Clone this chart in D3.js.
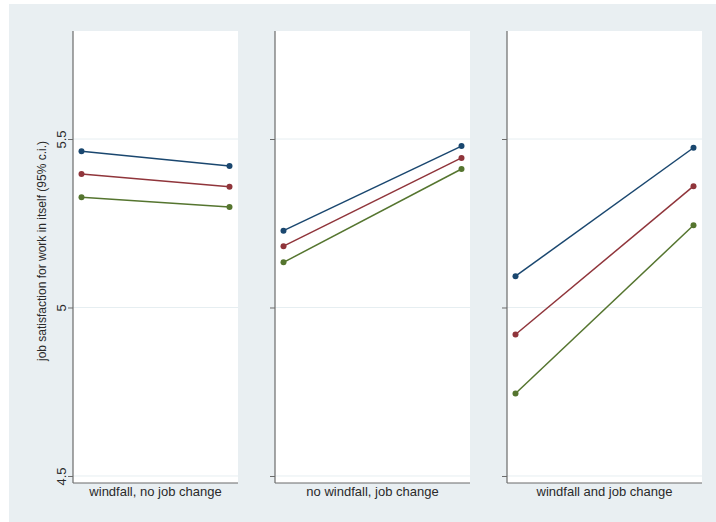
<!DOCTYPE html>
<html>
<head>
<meta charset="utf-8">
<script src="https://cdn.jsdelivr.net/npm/d3@7"></script>
<style>
  body { margin: 0; background: #fff; }
  svg { display: block; font-family: "Liberation Sans", Arial, sans-serif; }
</style>
</head>
<body>
<div id="chart"></div>
<script>
// panel titles (x-axis labels under each panel)
const panelNames = ["windfall, no job change", "no windfall, job change", "windfall and job change"];
// two time points per panel
const periods = [0, 1];
// values per panel: [before, after]
const blueSeries  = [[5.464, 5.420], [5.228, 5.479], [5.093, 5.474]];
const redSeries   = [[5.396, 5.358], [5.182, 5.444], [4.920, 5.360]];
const greenSeries = [[5.327, 5.298], [5.134, 5.411], [4.745, 5.244]];
const yTicks = [4.5, 5, 5.5];
const yTitle = "job satisfaction for work in itself (95% c.i.)";

const w = 716, h = 522;
const plotTop = 31, plotBottom = 483;
const panelX = [[73, 238], [275, 470], [507, 702]];
const axisColor = "#6b6b6b";
const textColor = "#2a2a2a";

const series = [
  {vals: blueSeries, color: "#1a476f"},
  {vals: redSeries, color: "#90353b"},
  {vals: greenSeries, color: "#55752f"}
];

const svg = d3.select("#chart").append("svg")
  .attr("width", w).attr("height", h);

// graph region
svg.append("rect")
  .attr("x", 9).attr("y", 4)
  .attr("width", w - 9).attr("height", h - 4)
  .attr("fill", "#e9eff2");

const yScale = d3.scaleLinear().domain([4.4792, 5.8205]).range([plotBottom, plotTop]);

panelNames.forEach(function(name, p){
  const x0 = panelX[p][0], x1 = panelX[p][1];
  const xScale = d3.scaleLinear().domain([0, 1]).range([x0 + 8.5, x1 - 8.5]);
  const g = svg.append("g");

  g.append("rect")
    .attr("x", x0).attr("y", plotTop)
    .attr("width", x1 - x0).attr("height", plotBottom - plotTop)
    .attr("fill", "#fff");

  // gridlines
  g.selectAll(".grid").data(yTicks).enter().append("line")
    .attr("x1", x0).attr("x2", x1)
    .attr("y1", d => yScale(d)).attr("y2", d => yScale(d))
    .attr("stroke", "#e6eef1").attr("stroke-width", 1);

  // y axis (labels only on first panel)
  const yAxis = d3.axisLeft(yScale).tickValues(yTicks).tickSize(5)
    .tickFormat(p === 0 ? d3.format("") : () => "");
  const ya = g.append("g")
    .attr("transform", "translate(" + x0 + ",0)")
    .call(yAxis);
  ya.select(".domain").remove();
  ya.selectAll(".tick line").attr("stroke", axisColor);
  ya.selectAll(".tick text")
    .attr("font-size", 13).attr("fill", textColor)
    .attr("font-family", "Liberation Sans, Arial, sans-serif")
    .attr("text-anchor", "middle")
    .attr("x", 0).attr("y", 0).attr("dy", 0)
    .attr("transform", "translate(-7,0) rotate(-90)");

  g.append("line")
    .attr("x1", x0).attr("x2", x0).attr("y1", plotTop).attr("y2", plotBottom)
    .attr("stroke", axisColor).attr("stroke-width", 1.2);
  g.append("line")
    .attr("x1", x0).attr("x2", x1).attr("y1", plotBottom).attr("y2", plotBottom)
    .attr("stroke", axisColor).attr("stroke-width", 1.2);

  g.append("text")
    .attr("x", (x0 + x1) / 2).attr("y", plotBottom + 13)
    .attr("text-anchor", "middle")
    .attr("font-size", 13).attr("fill", textColor)
    .text(name);

  const line = d3.line().x((d, i) => xScale(periods[i])).y(d => yScale(d));
  series.forEach(function(s){
    g.append("path")
      .attr("d", line(s.vals[p]))
      .attr("fill", "none").attr("stroke", s.color).attr("stroke-width", 1.5);
    g.selectAll(null).data(s.vals[p]).enter().append("circle")
      .attr("cx", (d, i) => xScale(periods[i]))
      .attr("cy", d => yScale(d))
      .attr("r", 3)
      .attr("fill", s.color);
  });
});

svg.append("text")
  .attr("transform", "translate(46,251) rotate(-90)")
  .attr("text-anchor", "middle")
  .attr("font-size", 12).attr("fill", textColor)
  .text(yTitle);
</script>
</body>
</html>
